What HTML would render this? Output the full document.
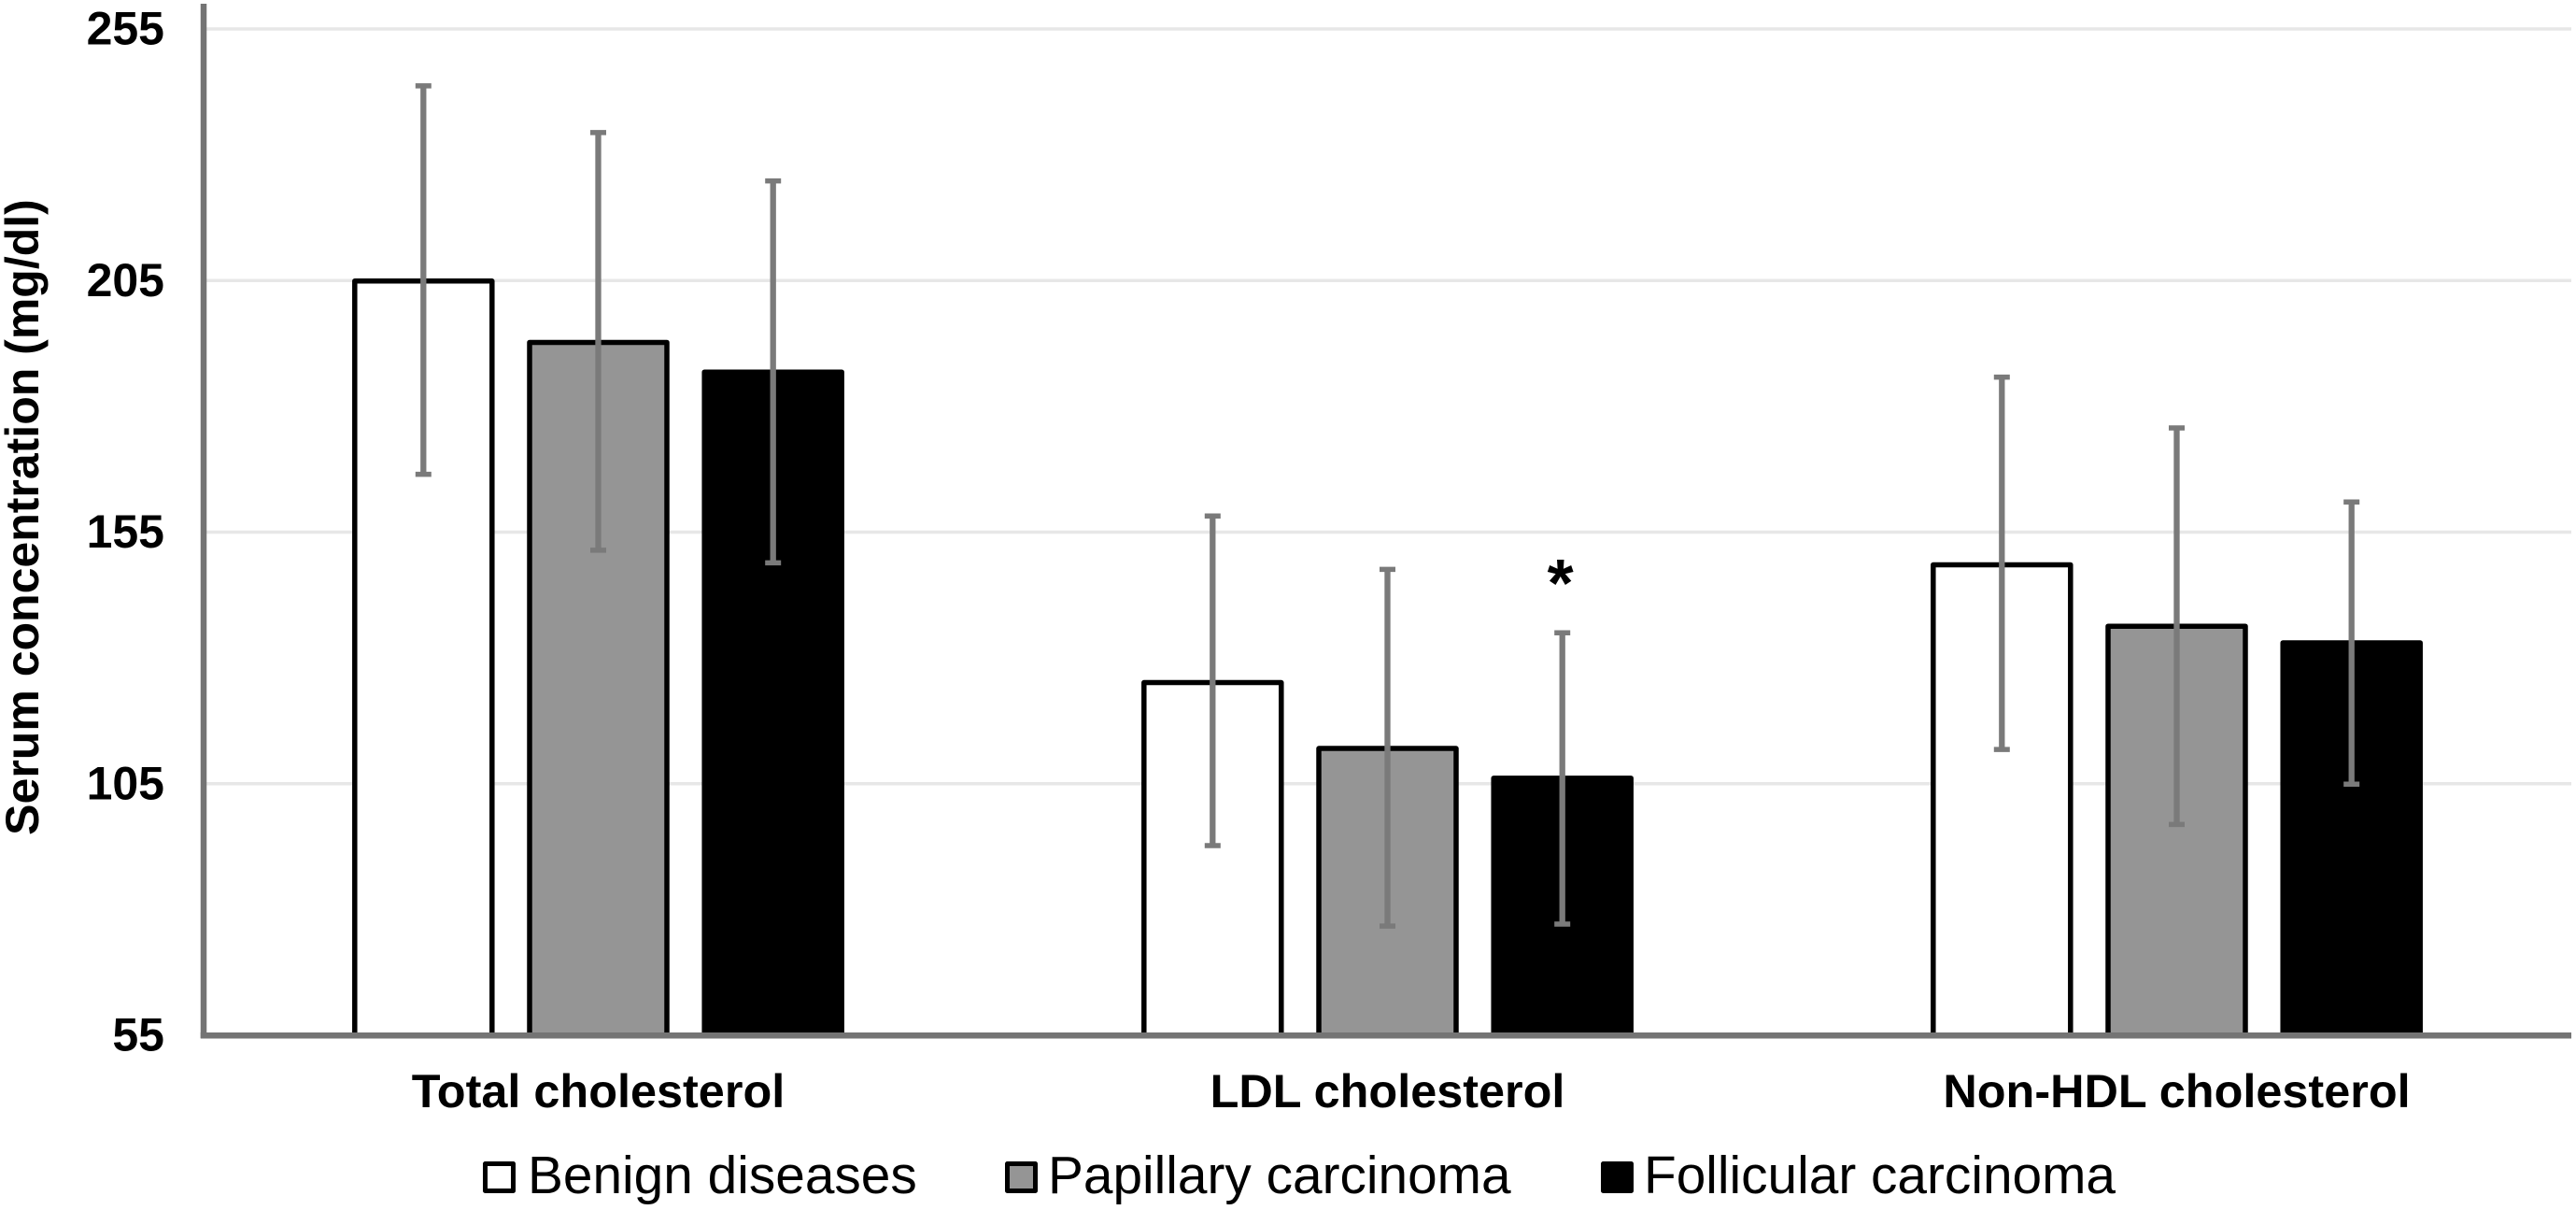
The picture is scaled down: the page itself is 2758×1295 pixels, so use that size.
<!DOCTYPE html>
<html lang="en">
<head>
<meta charset="utf-8">
<title>Serum concentration by diagnosis</title>
<style>
  html, body { margin: 0; padding: 0; background: #fff; }
  body { width: 2758px; height: 1295px; overflow: hidden; }
  svg { display: block; font-family: "Liberation Sans", Arial, sans-serif; }
</style>
</head>
<body>
<svg id="chart" xmlns="http://www.w3.org/2000/svg" width="2758" height="1295" viewBox="0 0 2758 1295">
  <rect x="0" y="0" width="2758" height="1295" fill="#ffffff"/>
</svg>
<script>
const categories = ['Total cholesterol', 'LDL cholesterol', 'Non-HDL cholesterol'];
const seriesNames = ['Benign diseases', 'Papillary carcinoma', 'Follicular carcinoma'];
const tickValues = [55, 105, 155, 205, 255];
const benignMeans = [204.9, 125.1, 148.5];
const papillaryMeans = [192.7, 112.0, 136.3];
const follicularMeans = [186.8, 106.1, 133.0];
const benignUpper = [243.7, 158.2, 185.8];
const benignLower = [166.5, 92.7, 111.8];
const papillaryUpper = [234.4, 147.6, 175.7];
const papillaryLower = [151.4, 76.7, 96.9];
const follicularUpper = [224.8, 135.0, 161.0];
const follicularLower = [148.9, 77.1, 104.9];
const yAxisTitle = 'Serum concentration (mg/dl)';
const significanceMark = '*';

const svg = document.getElementById('chart');
const NS = 'http://www.w3.org/2000/svg';
const means = [benignMeans, papillaryMeans, follicularMeans];
const uppers = [benignUpper, papillaryUpper, follicularUpper];
const lowers = [benignLower, papillaryLower, follicularLower];
const fills = ['#ffffff', '#959595', '#000000'];
const slugs = ['benign', 'papillary', 'follicular'];

const plotLeft = 218, plotRight = 2753, plotTop = 31, plotBottom = 1108;
const vMin = tickValues[0], vMax = tickValues[tickValues.length - 1];
const yScale = v => plotBottom + (v - vMin) * (plotTop - plotBottom) / (vMax - vMin);
const groupWidth = (plotRight - plotLeft) / categories.length;
const groupCenter = i => plotLeft + groupWidth * (i + 0.5);
const barStep = 187.2, barWidth = 147;
const barCenter = (i, s) => groupCenter(i) + (s - 1) * barStep;

function make(tag, attrs, parent) {
  const el = document.createElementNS(NS, tag);
  for (const k in attrs) el.setAttribute(k, attrs[k]);
  (parent || svg).appendChild(el);
  return el;
}

// gridlines (drawn above the baseline only)
tickValues.slice(1).forEach(function (t) {
  const line = make('line', { x1: plotLeft + 3, x2: plotRight, y1: yScale(t), y2: yScale(t), stroke: '#e7e7e7', 'stroke-width': 3.5 });
  
  
});

// bars
categories.forEach(function (cat, i) {
  means.forEach(function (arr, s) {
    const cx = barCenter(i, s);
    const top = yScale(arr[i]);
    const bar = make('rect', {
      x: cx - barWidth / 2, y: top, width: barWidth, height: plotBottom - top,
      fill: fills[s], stroke: '#000000', 'stroke-width': 5.5, 'stroke-linejoin': 'round'
    });
    
    
  });
});

// error bars
categories.forEach(function (cat, i) {
  means.forEach(function (arr, s) {
    const cx = barCenter(i, s);
    const yHi = yScale(uppers[s][i]);
    const yLo = yScale(lowers[s][i]);
    const g = make('g', { stroke: '#7a7a7a', fill: 'none' });
    
    
    make('line', { x1: cx, x2: cx, y1: yHi, y2: yLo, 'stroke-width': 6.3 }, g);
    make('line', { x1: cx - 8.5, x2: cx + 8.5, y1: yHi, y2: yHi, 'stroke-width': 5.5 }, g);
    make('line', { x1: cx - 8.5, x2: cx + 8.5, y1: yLo, y2: yLo, 'stroke-width': 5.5 }, g);
  });
});

// axes
const yAxis = make('line', { x1: plotLeft, x2: plotLeft, y1: 4, y2: plotBottom + 3, stroke: '#747474', 'stroke-width': 6.5 });


const xAxis = make('line', { x1: plotLeft - 3.25, x2: plotRight, y1: plotBottom + 0.3, y2: plotBottom + 0.3, stroke: '#747474', 'stroke-width': 6.5 });



// y tick labels
tickValues.forEach(function (t) {
  const label = make('text', { x: 176, y: yScale(t) + 16.5, 'text-anchor': 'end', 'font-size': 50, 'font-weight': 700, fill: '#000' });
  label.textContent = t;
  
  
});

// category labels
categories.forEach(function (cat, i) {
  const label = make('text', { x: groupCenter(i), y: 1185, 'text-anchor': 'middle', 'font-size': 50.4, 'font-weight': 700, fill: '#000' });
  label.textContent = cat;
  
  
});

// y axis title
const yTitle = make('text', { transform: 'translate(41 553.5) rotate(-90)', 'text-anchor': 'middle', 'font-size': 50, 'font-weight': 700, fill: '#000' });
yTitle.textContent = yAxisTitle;



// significance marker over follicular LDL
const star = make('text', { x: barCenter(1, 2) - 2, y: 649, 'text-anchor': 'middle', 'font-size': 72, 'font-weight': 700, fill: '#000' });
star.textContent = significanceMark;



// legend
const legendSwatchX = [517, 1076, 1714];
const legendTextX = [565, 1122, 1760];
seriesNames.forEach(function (name, s) {
  const entry = make('g', {});
  
  
  const sw = make('rect', { x: legendSwatchX[s] + 2.5, y: 1245.5, width: 30, height: 29, fill: fills[s], stroke: '#000', 'stroke-width': 5, 'stroke-linejoin': 'round' }, entry);
  
  
  const txt = make('text', { x: legendTextX[s], y: 1277, 'font-size': 56.8, fill: '#000' }, entry);
  txt.textContent = name;
  
  
});
</script>
</body>
</html>
